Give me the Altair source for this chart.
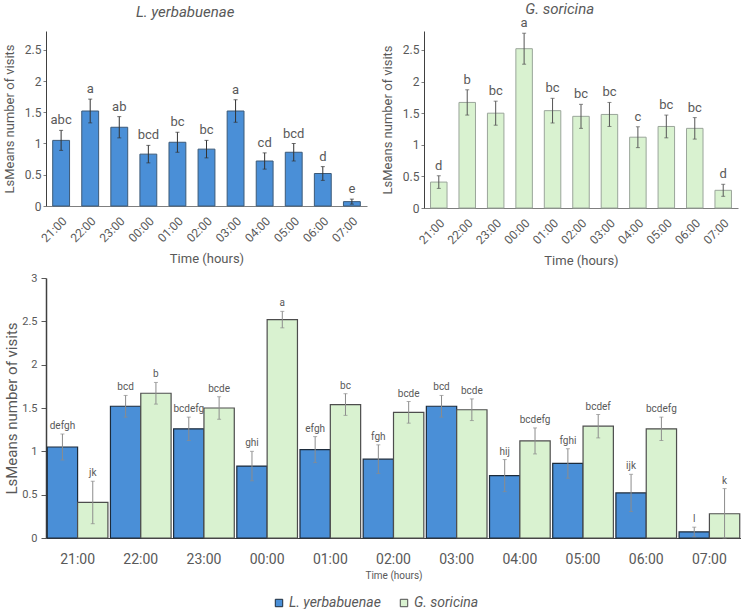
import altair as alt
import pandas as pd

hours = ["21:00", "22:00", "23:00", "00:00", "01:00", "02:00",
         "03:00", "04:00", "05:00", "06:00", "07:00"]
species = ["L. yerbabuenae", "G. soricina"]

# Per-species models
ly_mean = [1.05, 1.52, 1.26, 0.83, 1.02, 0.91, 1.52, 0.72, 0.86, 0.52, 0.07]
ly_se = [0.16, 0.19, 0.17, 0.14, 0.16, 0.14, 0.18, 0.13, 0.14, 0.11, 0.04]
ly_letters = ["abc", "a", "ab", "bcd", "bc", "bc", "a", "cd", "bcd", "d", "e"]

gs_mean = [0.41, 1.67, 1.50, 2.52, 1.54, 1.45, 1.48, 1.12, 1.29, 1.26, 0.28]
gs_se = [0.10, 0.20, 0.19, 0.245, 0.195, 0.19, 0.19, 0.165, 0.18, 0.17, 0.095]
gs_letters = ["d", "b", "bc", "a", "bc", "bc", "bc", "c", "bc", "bc", "d"]

# Combined model (both species)
ly_se_all = [0.15, 0.125, 0.135, 0.17, 0.15, 0.165, 0.125, 0.185, 0.17, 0.215, 0.055]
gs_se_all = [0.245, 0.125, 0.13, 0.095, 0.125, 0.125, 0.125, 0.15, 0.135, 0.135, 0.29]
ly_letters_all = ["defgh", "bcd", "bcdefg", "ghi", "efgh", "fgh", "bcd", "hij", "fghi", "ijk", "l"]
gs_letters_all = ["jk", "b", "bcde", "a", "bc", "bcde", "bcde", "bcdefg", "bcdef", "bcdefg", "k"]

BLUE = "#4a8fd7"
GREEN = "#d9f2d0"
TEXT = "#595959"
FONT = "Roboto"
YTITLE = "LsMeans  number of visits"


def frame(mean, se, letters, name):
    return pd.DataFrame({
        "hour": hours,
        "species": name,
        "mean": mean,
        "lo": [max(0.0, m - s) for m, s in zip(mean, se)],
        "hi": [m + s for m, s in zip(mean, se)],
        "letter": letters,
    })


def panel(df, title, fill, stroke, err_color, width, height, title_offset):
    xscale = alt.Scale(paddingInner=0.42, paddingOuter=0.23)
    xaxis = alt.Axis(labelAngle=-45, ticks=False, labelFontSize=12,
                     labelPadding=9, titleFontSize=13, titlePadding=9,
                     domainColor="#7f7f7f")
    yscale = alt.Scale(domain=[0, 2.8], nice=False)
    yaxis = alt.Axis(values=[0, 0.5, 1, 1.5, 2, 2.5], format="~g",
                     grid=False, labelFontSize=12, titleFontSize=13,
                     tickSize=3, tickColor="#7f7f7f", labelPadding=2,
                     domainColor="#404040", titlePadding=8, labelOverlap=False)

    def X():
        return alt.X("hour:N", sort=hours, title="Time (hours)", scale=xscale, axis=xaxis)

    def Y(field):
        return alt.Y(field, title=YTITLE, scale=yscale, axis=yaxis)

    base = alt.Chart(df)
    bars = base.mark_bar(fill=fill, stroke=stroke, strokeWidth=1).encode(x=X(), y=Y("mean:Q"))
    rules = base.mark_rule(color=err_color, strokeWidth=1).encode(
        x=X(), y=Y("lo:Q"), y2="hi:Q")
    cap_lo = base.mark_tick(color=err_color, thickness=1, size=4).encode(x=X(), y=Y("lo:Q"))
    cap_hi = base.mark_tick(color=err_color, thickness=1, size=4).encode(x=X(), y=Y("hi:Q"))
    text = base.mark_text(dy=-6, baseline="alphabetic", fontSize=13,
                          color=TEXT, font=FONT).encode(
        x=X(), y=Y("hi:Q"), text="letter:N")
    return alt.layer(bars, rules, cap_lo, cap_hi, text).properties(
        width=width, height=height,
        title=alt.Title(title, fontStyle="italic", fontSize=15, frame="bounds",
                        fontWeight="normal", color=TEXT, offset=title_offset))


top_left = panel(frame(ly_mean, ly_se, ly_letters, species[0]),
                 species[0], BLUE, "#3c5a78", "#333333", 321, 175, 11)
top_right = panel(frame(gs_mean, gs_se, gs_letters, species[1]),
                  species[1], GREEN, "#9aa59a", "#555555", 314, 177, 0)

both = pd.concat([frame(ly_mean, ly_se_all, ly_letters_all, species[0]),
                  frame(gs_mean, gs_se_all, gs_letters_all, species[1])])

bxscale = alt.Scale(paddingInner=0.04, paddingOuter=0.02)
bxaxis = alt.Axis(labelAngle=0, ticks=False, labelFontSize=14,
                  labelPadding=14, titleFontSize=10, titlePadding=4,
                  domainColor="#404040")
byscale = alt.Scale(domain=[0, 3], nice=False)
byaxis = alt.Axis(values=[0, 0.5, 1, 1.5, 2, 2.5, 3], format="~g",
                  grid=False, labelFontSize=11, titleFontSize=15,
                  tickSize=5, tickColor="#595959", labelPadding=4,
                  domainColor="#404040", domainWidth=1.5, titlePadding=2,
                  labelOverlap=False)


def BX():
    return alt.X("hour:N", sort=hours, title="Time (hours)", scale=bxscale, axis=bxaxis)


def BY(field):
    return alt.Y(field, title=YTITLE, scale=byscale, axis=byaxis)


bxo = alt.XOffset("species:N", sort=species,
                  scale=alt.Scale(paddingInner=0, paddingOuter=0))

bbase = alt.Chart(both)
bbars = bbase.mark_bar(strokeWidth=1.2).encode(
    x=BX(), xOffset=bxo, y=BY("mean:Q"),
    fill=alt.Fill("species:N", sort=species,
                  scale=alt.Scale(domain=species, range=[BLUE, GREEN]),
                  legend=alt.Legend(orient="none", legendX=226, legendY=565,
                                    direction="horizontal", title=None,
                                    symbolType="square", symbolSize=55,
                                    symbolStrokeColor="#404040",
                                    symbolStrokeWidth=1,
                                    labelFontStyle="italic", labelFontSize=14,
                                    labelColor=TEXT, columnPadding=16,
                                    labelOffset=3)),
    stroke=alt.Stroke("species:N", sort=species,
                      scale=alt.Scale(domain=species, range=["#1c2b3b", "#4d4d4d"]),
                      legend=None))
ERR = "#8c8c8c"
brules = bbase.mark_rule(color=ERR, strokeWidth=1).encode(
    x=BX(), xOffset=bxo, y=BY("lo:Q"), y2="hi:Q")
bcap_lo = bbase.mark_tick(color=ERR, thickness=1, size=4).encode(
    x=BX(), xOffset=bxo, y=BY("lo:Q"))
bcap_hi = bbase.mark_tick(color=ERR, thickness=1, size=4).encode(
    x=BX(), xOffset=bxo, y=BY("hi:Q"))
btext = bbase.mark_text(dy=-5, baseline="alphabetic", fontSize=10,
                        color=TEXT, font=FONT).encode(
    x=BX(), xOffset=bxo, y=BY("hi:Q"), text="letter:N")

bottom = alt.layer(bbars, brules, bcap_lo, bcap_hi, btext).properties(
    width=695, height=260)

chart = alt.vconcat(
    alt.hconcat(top_left, top_right, spacing=14),
    bottom,
    spacing=4,
).properties(
    padding={"left": 3, "top": 2, "right": 0, "bottom": 0}
).configure(
    font=FONT,
).configure_axis(
    labelColor=TEXT, titleColor=TEXT, titleFontWeight="normal",
    labelFont=FONT, titleFont=FONT,
).configure_view(
    stroke=None,
)

chart.save("out.html", embed_options={"renderer": "svg", "actions": False})
